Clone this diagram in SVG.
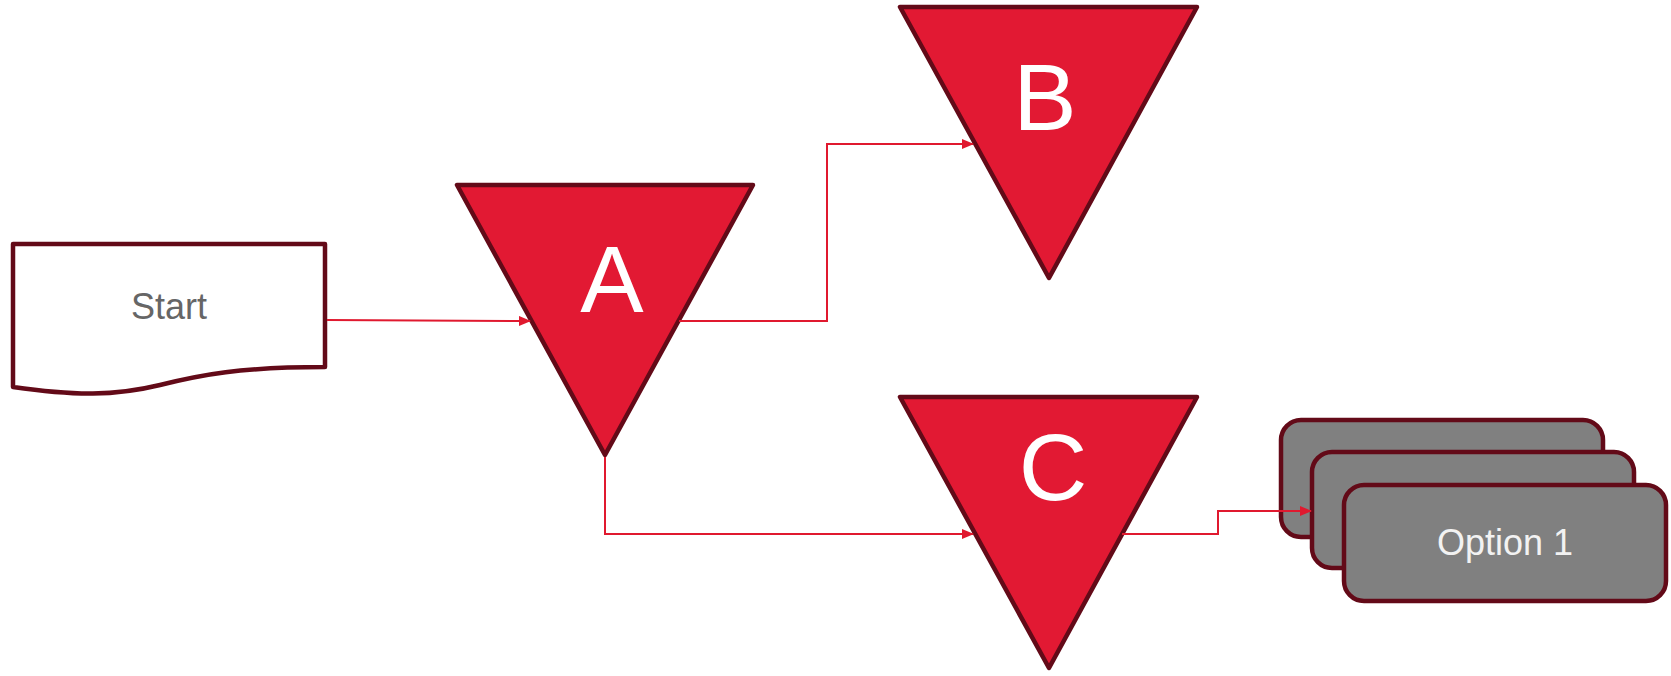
<svg xmlns="http://www.w3.org/2000/svg" width="1671" height="676" viewBox="0 0 1671 676">
<style>
.tri{fill:#E21933;stroke:#630A18;stroke-width:4.5;stroke-linejoin:round}
.card{fill:#808080;stroke:#630A18;stroke-width:4.5}
.big{font-family:"Liberation Sans",Arial,sans-serif;font-size:95px;fill:#ffffff;text-anchor:middle}
.lbl{font-family:"Liberation Sans",Arial,sans-serif;font-size:36px;text-anchor:middle}
.conn{fill:none;stroke:#E0192F;stroke-width:2}
</style>
<defs>
<marker id="arr" markerWidth="12" markerHeight="10" refX="11" refY="5" orient="auto" markerUnits="userSpaceOnUse">
<path d="M0,0 L12,5 L0,10 Z" fill="#E0192F"/>
</marker>
</defs>
<g id="start">
<path d="M13,244 L325,244 L325,367 C240,367 200,375 160,385 C115,396 75,396 13,387 Z" fill="#ffffff" stroke="#630A18" stroke-width="4.5" stroke-linejoin="round"/>
<text class="lbl" x="169" y="319" fill="#666666">Start</text>
</g>
<g id="A">
<path class="tri" d="M457,185 L753,185 L605,455 Z"/>
<text class="big" x="612" y="312">A</text>
</g>
<g id="B">
<path class="tri" d="M900,7 L1197,7 L1049,278 Z"/>
<text class="big" x="1045" y="130">B</text>
</g>
<g id="C">
<path class="tri" d="M900,397 L1197,397 L1049,668 Z"/>
<text class="big" x="1053" y="500">C</text>
</g>
<g id="options">
<rect class="card" x="1281" y="420" width="322" height="117" rx="20"/>
<rect class="card" x="1312" y="452" width="322" height="116" rx="20"/>
<rect class="card" x="1344" y="485" width="322" height="116" rx="20"/>
<text class="lbl" x="1505" y="555" fill="#F2F2F2">Option 1</text>
</g>
<g id="connectors">
<path class="conn" d="M327,320 L530,321" marker-end="url(#arr)"/>
<path class="conn" d="M679,321 L827,321 L827,144 L973,144" marker-end="url(#arr)"/>
<path class="conn" d="M605,457 L605,534 L973,534" marker-end="url(#arr)"/>
<path class="conn" d="M1122,534 L1218,534 L1218,511 L1311,511" marker-end="url(#arr)"/>
</g>
</svg>
